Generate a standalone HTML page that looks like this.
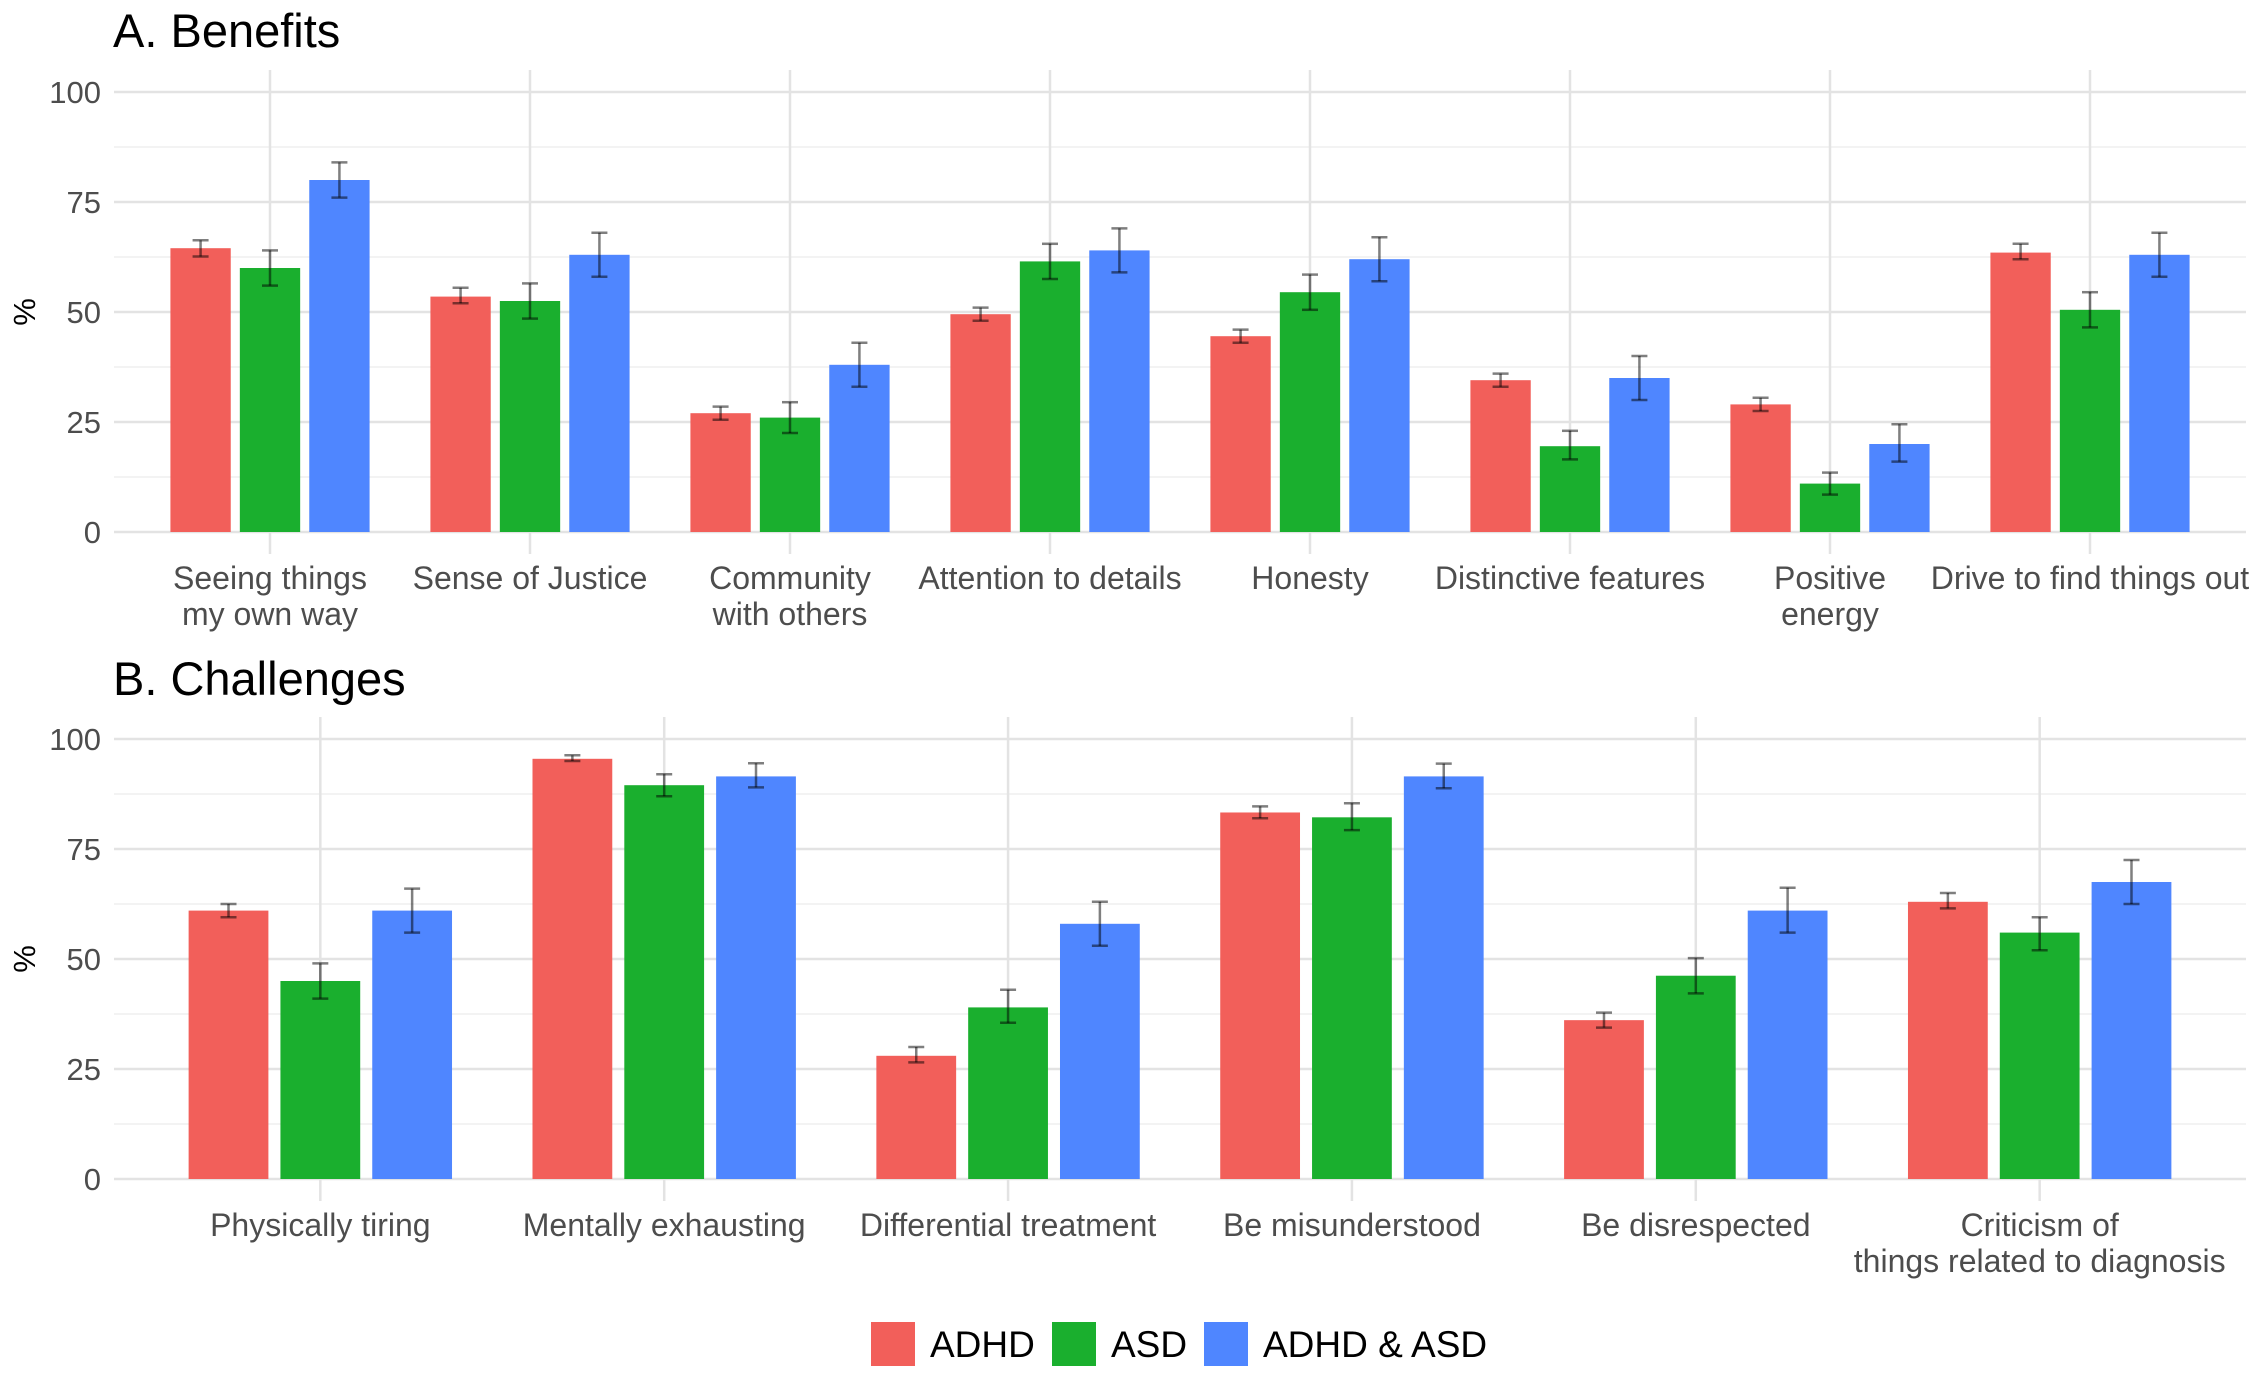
<!DOCTYPE html>
<html><head><meta charset="utf-8"><style>
html,body{margin:0;padding:0;background:#fff;}
svg{display:block;font-family:"Liberation Sans",Arial,sans-serif;}
</style></head><body>
<svg id="chart" width="2263" height="1379" viewBox="0 0 2263 1379" xmlns="http://www.w3.org/2000/svg">
<rect width="2263" height="1379" fill="#fff"/>
<g id="panelA"></g>
<g id="panelB"></g>
<g id="legend"></g>
</svg>
<script>
const seriesNames = ["ADHD", "ASD", "ADHD & ASD"];
const seriesColors = ["#F25F5A", "#1AAF2E", "#4F86FF"];

const benefitCats = [["Seeing things","my own way"],["Sense of Justice"],["Community","with others"],["Attention to details"],["Honesty"],["Distinctive features"],["Positive","energy"],["Drive to find things out"]];
const benefitADHD = [64.5, 53.5, 27, 49.5, 44.5, 34.5, 29, 63.5];
const benefitASD = [60, 52.5, 26, 61.5, 54.5, 19.5, 11, 50.5];
const benefitBoth = [80, 63, 38, 64, 62, 35, 20, 63];
const benefitADHDLo = [62.6, 52, 25.5, 48, 43, 33, 27.5, 62];
const benefitADHDHi = [66.3, 55.5, 28.5, 51, 46, 36, 30.5, 65.5];
const benefitASDLo = [56, 48.5, 22.5, 57.5, 50.5, 16.5, 8.5, 46.5];
const benefitASDHi = [64, 56.5, 29.5, 65.5, 58.5, 23, 13.5, 54.5];
const benefitBothLo = [76, 58, 33, 59, 57, 30, 16, 58];
const benefitBothHi = [84, 68, 43, 69, 67, 40, 24.5, 68];

const challengeCats = [["Physically tiring"],["Mentally exhausting"],["Differential treatment"],["Be misunderstood"],["Be disrespected"],["Criticism of","things related to diagnosis"]];
const challengeADHD = [61, 95.5, 28, 83.3, 36.1, 63];
const challengeASD = [45, 89.5, 39, 82.2, 46.2, 56];
const challengeBoth = [61, 91.5, 58, 91.5, 61, 67.5];
const challengeADHDLo = [59.5, 95, 26.5, 82, 34.4, 61.5];
const challengeADHDHi = [62.5, 96.3, 30, 84.7, 37.8, 65];
const challengeASDLo = [41, 87, 35.5, 79.3, 42.2, 52];
const challengeASDHi = [49, 92, 43, 85.4, 50.2, 59.5];
const challengeBothLo = [56, 89, 53, 88.8, 56, 62.5];
const challengeBothHi = [66, 94.5, 63, 94.4, 66.2, 72.5];

const yTicks = [0, 25, 50, 75, 100];
const yMinor = [12.5, 37.5, 62.5, 87.5];

const NS = "http://www.w3.org/2000/svg";
function mk(tag, attrs, parent) {
  const e = document.createElementNS(NS, tag);
  for (const k in attrs) e.setAttribute(k, attrs[k]);
  parent.appendChild(e);
  return e;
}

function drawPanel(g, cfg) {
  const left = 114, right = 2246;
  const n = cfg.cats.length;
  const step = (right - left) / (n + 0.2);
  const xc = i => left + step * (0.6 + i);
  const y = v => cfg.y0 - (cfg.y0 - cfg.y100) * v / 100;
  const top = y(105), bot = y(-5);

  const t = mk("text", {x: 113, y: cfg.titleY, "font-size": 47, fill: "#000"}, g);
  t.textContent = cfg.title;
  
  

  yMinor.forEach(v => {
    const l = mk("line", {x1: left, x2: right, y1: y(v), y2: y(v), stroke: "#efefef", "stroke-width": 1.5}, g);
    
    
  });
  yTicks.forEach(v => {
    const l = mk("line", {x1: left, x2: right, y1: y(v), y2: y(v), stroke: "#e3e3e3", "stroke-width": 2.5}, g);
    
    
    const tx = mk("text", {x: 101, y: y(v) + 11, "font-size": 31, fill: "#4d4d4d", "text-anchor": "end"}, g);
    tx.textContent = v;
    
    
  });
  for (let i = 0; i < n; i++) {
    const l = mk("line", {x1: xc(i), x2: xc(i), y1: top, y2: bot, stroke: "#e3e3e3", "stroke-width": 2.5}, g);
    
    
  }
  const yl = mk("text", {x: 0, y: 0, "font-size": 31, fill: "#000", "text-anchor": "middle", transform: `translate(35 ${y(50)}) rotate(-90)`}, g);
  yl.textContent = "%";
  
  

  const bw = step * 0.232, off = step * 0.267;
  for (let i = 0; i < n; i++) {
    for (let s = 0; s < 3; s++) {
      const v = cfg.vals[s][i];
      const cx = xc(i) + (s - 1) * off;
      const r = mk("rect", {x: cx - bw / 2, y: y(v), width: bw, height: y(0) - y(v), fill: seriesColors[s]}, g);
      
      
      const lo = y(cfg.lo[s][i]), hi = y(cfg.hi[s][i]);
      const eg = mk("g", {stroke: "#000", "stroke-opacity": 0.5, "stroke-width": 2.5}, g);
      
      
      mk("line", {x1: cx, x2: cx, y1: lo, y2: hi}, eg);
      mk("line", {x1: cx - 8, x2: cx + 8, y1: lo, y2: lo}, eg);
      mk("line", {x1: cx - 8, x2: cx + 8, y1: hi, y2: hi}, eg);
    }
    cfg.cats[i].forEach((line, k) => {
      const tx = mk("text", {x: xc(i), y: cfg.labelY + k * 36, "font-size": 32, fill: "#4d4d4d", "text-anchor": "middle"}, g);
      tx.textContent = line;
      
      
    });
  }
}

drawPanel(document.getElementById("panelA"), {
  title: "A. Benefits", titleY: 47, y100: 92, y0: 532, labelY: 589,
  cats: benefitCats,
  vals: [benefitADHD, benefitASD, benefitBoth],
  lo: [benefitADHDLo, benefitASDLo, benefitBothLo],
  hi: [benefitADHDHi, benefitASDHi, benefitBothHi]
});
drawPanel(document.getElementById("panelB"), {
  title: "B. Challenges", titleY: 695, y100: 739, y0: 1179, labelY: 1236,
  cats: challengeCats,
  vals: [challengeADHD, challengeASD, challengeBoth],
  lo: [challengeADHDLo, challengeASDLo, challengeBothLo],
  hi: [challengeADHDHi, challengeASDHi, challengeBothHi]
});

const lg = document.getElementById("legend");
const legX = [871, 1052, 1204];
const legTX = [930, 1111, 1263];
seriesNames.forEach((nm, s) => {
  const eg = mk("g", {}, lg);
  
  
  mk("rect", {x: legX[s], y: 1322, width: 44, height: 44, fill: seriesColors[s]}, eg);
  const tx = mk("text", {x: legTX[s], y: 1357, "font-size": 37, fill: "#000"}, eg);
  tx.textContent = nm;
});
</script>
</body></html>
